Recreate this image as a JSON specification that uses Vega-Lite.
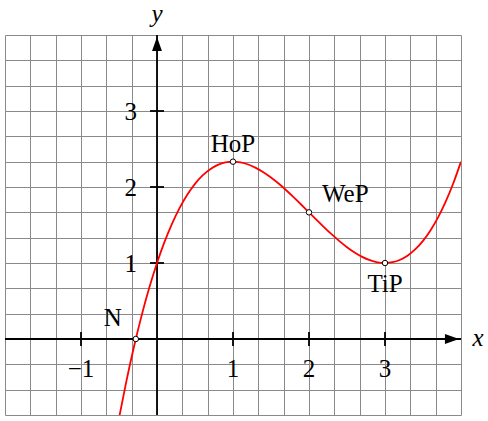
{
  "$schema": "https://vega.github.io/schema/vega-lite/v6.json",
  "width": 456,
  "height": 380,
  "autosize": {"type": "none"},
  "padding": {"left": 5, "top": 35, "right": 27, "bottom": 6},
  "background": "white",
  "config": {"view": {"stroke": null}, "font": "Liberation Serif"},
  "datasets": {
    "curve": [
      {"x": -0.5, "y": -1.041667}, {"x": -0.4, "y": -0.541333}, {"x": -0.3, "y": -0.089},
      {"x": -0.2, "y": 0.317333}, {"x": -0.1, "y": 0.679667}, {"x": 0.0, "y": 1.0},
      {"x": 0.1, "y": 1.280333}, {"x": 0.2, "y": 1.522667}, {"x": 0.3, "y": 1.729},
      {"x": 0.4, "y": 1.901333}, {"x": 0.5, "y": 2.041667}, {"x": 0.6, "y": 2.152},
      {"x": 0.7, "y": 2.234333}, {"x": 0.8, "y": 2.290667}, {"x": 0.9, "y": 2.323},
      {"x": 1.0, "y": 2.333333}, {"x": 1.1, "y": 2.323667}, {"x": 1.2, "y": 2.296},
      {"x": 1.3, "y": 2.252333}, {"x": 1.4, "y": 2.194667}, {"x": 1.5, "y": 2.125},
      {"x": 1.6, "y": 2.045333}, {"x": 1.7, "y": 1.957667}, {"x": 1.8, "y": 1.864},
      {"x": 1.9, "y": 1.766333}, {"x": 2.0, "y": 1.666667}, {"x": 2.1, "y": 1.567},
      {"x": 2.2, "y": 1.469333}, {"x": 2.3, "y": 1.375667}, {"x": 2.4, "y": 1.288},
      {"x": 2.5, "y": 1.208333}, {"x": 2.6, "y": 1.138667}, {"x": 2.7, "y": 1.081},
      {"x": 2.8, "y": 1.037333}, {"x": 2.9, "y": 1.009667}, {"x": 3.0, "y": 1.0},
      {"x": 3.1, "y": 1.010333}, {"x": 3.2, "y": 1.042667}, {"x": 3.3, "y": 1.099},
      {"x": 3.4, "y": 1.181333}, {"x": 3.5, "y": 1.291667}, {"x": 3.6, "y": 1.432},
      {"x": 3.7, "y": 1.604333}, {"x": 3.8, "y": 1.810667}, {"x": 3.9, "y": 2.053},
      {"x": 4.0, "y": 2.333333}
    ],
    "points": [
      {"name": "N", "x": -0.279, "y": 0},
      {"name": "HoP", "x": 1, "y": 2.333333},
      {"name": "WeP", "x": 2, "y": 1.666667},
      {"name": "TiP", "x": 3, "y": 1}
    ],
    "axes": [
      {"x": -2, "y": 0, "x2": 4, "y2": 0},
      {"x": 0, "y": -1, "x2": 0, "y2": 4}
    ],
    "xticks": [
      {"x": -1, "y": 0, "label": "−1"},
      {"x": 1, "y": 0, "label": "1"},
      {"x": 2, "y": 0, "label": "2"},
      {"x": 3, "y": 0, "label": "3"}
    ],
    "yticks": [
      {"x": 0, "y": 1, "label": "1"},
      {"x": 0, "y": 2, "label": "2"},
      {"x": 0, "y": 3, "label": "3"}
    ],
    "xend": [{"x": 4, "y": 0, "label": "x"}],
    "yend": [{"x": 0, "y": 4, "label": "y"}]
  },
  "encoding": {
    "x": {
      "field": "x",
      "type": "quantitative",
      "scale": {"domain": [-2, 4], "nice": false, "zero": false},
      "axis": {
        "values": [-2, -1.666667, -1.333333, -1, -0.666667, -0.333333, 0, 0.333333, 0.666667, 1, 1.333333, 1.666667, 2, 2.333333, 2.666667, 3, 3.333333, 3.666667, 4],
        "grid": true, "gridColor": "#8a8a8a", "gridWidth": 1, "gridOpacity": 1,
        "labels": false, "ticks": false, "domain": false, "title": null
      }
    },
    "y": {
      "field": "y",
      "type": "quantitative",
      "scale": {"domain": [-1, 4], "nice": false, "zero": false},
      "axis": {
        "values": [-1, -0.666667, -0.333333, 0, 0.333333, 0.666667, 1, 1.333333, 1.666667, 2, 2.333333, 2.666667, 3, 3.333333, 3.666667, 4],
        "grid": true, "gridColor": "#8a8a8a", "gridWidth": 1, "gridOpacity": 1,
        "labels": false, "ticks": false, "domain": false, "title": null
      }
    }
  },
  "layer": [
    {
      "data": {"name": "axes"},
      "mark": {"type": "rule", "color": "black", "strokeWidth": 1.8},
      "encoding": {"x2": {"field": "x2"}, "y2": {"field": "y2"}}
    },
    {
      "data": {"name": "xticks"},
      "mark": {"type": "tick", "orient": "vertical", "size": 14, "thickness": 1.8, "color": "black", "opacity": 1}
    },
    {
      "data": {"name": "yticks"},
      "mark": {"type": "tick", "orient": "horizontal", "size": 14, "thickness": 1.8, "color": "black", "opacity": 1}
    },
    {
      "data": {"name": "xend"},
      "mark": {"type": "point", "shape": "M1,0L-1,-0.7L-1,0.7Z", "size": 200, "filled": true, "color": "black", "opacity": 1, "xOffset": -9}
    },
    {
      "data": {"name": "yend"},
      "mark": {"type": "point", "shape": "M0,-1L-0.7,1L0.7,1Z", "size": 200, "filled": true, "color": "black", "opacity": 1, "yOffset": 9}
    },
    {
      "data": {"name": "curve"},
      "mark": {"type": "line", "color": "#ff0000", "strokeWidth": 1.8, "interpolate": "monotone", "clip": true}
    },
    {
      "data": {"name": "points"},
      "mark": {"type": "point", "shape": "circle", "size": 30, "filled": true, "fill": "white", "stroke": "black", "strokeWidth": 1, "opacity": 1}
    },
    {
      "data": {"name": "xticks"},
      "mark": {"type": "text", "fontSize": 25, "align": "center", "dy": 38, "baseline": "alphabetic"},
      "encoding": {"text": {"field": "label"}}
    },
    {
      "data": {"name": "yticks"},
      "mark": {"type": "text", "fontSize": 25, "align": "right", "dx": -20, "dy": 8.5, "baseline": "alphabetic"},
      "encoding": {"text": {"field": "label"}}
    },
    {
      "data": {"name": "xend"},
      "mark": {"type": "text", "fontSize": 25, "fontStyle": "italic", "align": "center", "dx": 17, "dy": 7, "baseline": "alphabetic"},
      "encoding": {"text": {"field": "label"}}
    },
    {
      "data": {"name": "yend"},
      "mark": {"type": "text", "fontSize": 25, "fontStyle": "italic", "align": "center", "dy": -13, "baseline": "alphabetic"},
      "encoding": {"text": {"field": "label"}}
    },
    {
      "data": {"name": "points"},
      "transform": [{"filter": "datum.name === 'HoP'"}],
      "mark": {"type": "text", "fontSize": 25, "align": "center", "dy": -10, "baseline": "alphabetic"},
      "encoding": {"text": {"field": "name"}}
    },
    {
      "data": {"name": "points"},
      "transform": [{"filter": "datum.name === 'WeP'"}],
      "mark": {"type": "text", "fontSize": 25, "align": "left", "dx": 13, "dy": -10, "baseline": "alphabetic"},
      "encoding": {"text": {"field": "name"}}
    },
    {
      "data": {"name": "points"},
      "transform": [{"filter": "datum.name === 'TiP'"}],
      "mark": {"type": "text", "fontSize": 25, "align": "center", "dy": 29, "baseline": "alphabetic"},
      "encoding": {"text": {"field": "name"}}
    },
    {
      "data": {"name": "points"},
      "transform": [{"filter": "datum.name === 'N'"}],
      "mark": {"type": "text", "fontSize": 25, "align": "right", "dx": -14, "dy": -13, "baseline": "alphabetic"},
      "encoding": {"text": {"field": "name"}}
    }
  ]
}
